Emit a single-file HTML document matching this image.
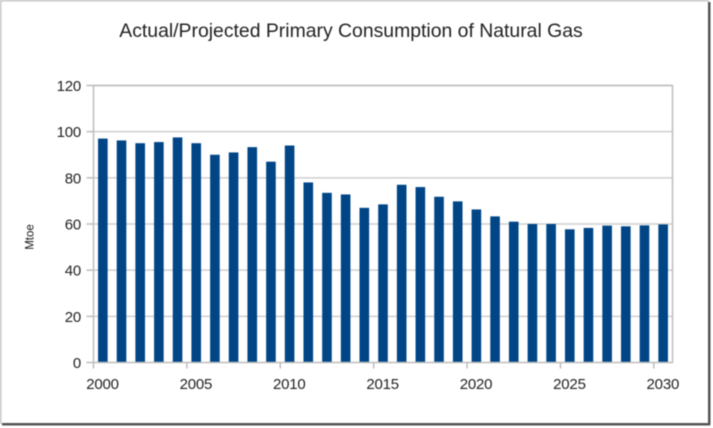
<!DOCTYPE html>
<html>
<head>
<meta charset="utf-8">
<style>
html,body{margin:0;padding:0;background:#fff;width:713px;height:428px;overflow:hidden}
svg{display:block;filter:blur(0.4px)}
text{font-family:"Liberation Sans",sans-serif;fill:#222}
</style>
</head>
<body>
<svg id="chart" width="713" height="428" viewBox="0 0 713 428" xmlns="http://www.w3.org/2000/svg">
<rect x="0" y="0" width="713" height="428" fill="#fff"/>
<rect x="2" y="423" width="708" height="2.5" fill="#555"/>
<rect x="708" y="2" width="2.5" height="423" fill="#555"/>
<rect x="0" y="0" width="709" height="1.5" fill="#c4c4c4"/>
<rect x="0" y="0" width="1.5" height="424" fill="#c4c4c4"/>
<text x="351" y="37" font-size="19.4" text-anchor="middle">Actual/Projected Primary Consumption of Natural Gas</text>
<text transform="translate(33.5 237) rotate(-90)" font-size="11.5" text-anchor="middle" style="fill:#111">Mtoe</text>
<g id="grid"></g>
<g id="bars"></g>
<g id="axes"></g>
</svg>
<script>
const categories = [2000,2001,2002,2003,2004,2005,2006,2007,2008,2009,2010,2011,2012,2013,2014,2015,2016,2017,2018,2019,2020,2021,2022,2023,2024,2025,2026,2027,2028,2029,2030];
const seriesValues = [97,96.2,95,95.5,97.5,95,90,91,93.3,87,94,78,73.5,72.8,67,68.5,77,76,71.8,69.8,66.3,63.3,61,60,60,57.7,58.3,59.3,59,59.4,59.8];
const yTicks = [0,20,40,60,80,100,120];
const xTickLabels = [2000,2005,2010,2015,2020,2025,2030];

const NS = 'http://www.w3.org/2000/svg';
const left = 93.5, right = 672.5, top_ = 85.5, bottom = 362.5;
const yMax = 120;
const step = (right - left) / categories.length;
const barW = 9.6;
const xBand = i => left + step * i;
const xOf = c => xBand(categories.indexOf(c));
const yOf = v => bottom - (v / yMax) * (bottom - top_);
function mk(tag, parent, attrs){
  const el = document.createElementNS(NS, tag);
  for (const k in attrs) el.setAttribute(k, attrs[k]);
  parent.appendChild(el);
  return el;
}
const gGrid = document.getElementById('grid');
const gBars = document.getElementById('bars');
const gAxes = document.getElementById('axes');

yTicks.forEach(function(t){
  if (t !== 0) {
    const line = mk('line', gGrid, {x1:left, x2:right, y1:yOf(t), y2:yOf(t), stroke:'#cfcfcf', 'stroke-width':1.5});
    
    
  }
  const tick = mk('line', gAxes, {x1:left-7, x2:left, y1:yOf(t), y2:yOf(t), stroke:'#bdbdbd', 'stroke-width':1.5});
  
  
  const label = mk('text', gAxes, {x:81, y:yOf(t)+5.5, 'font-size':15, 'letter-spacing':-0.2, 'text-anchor':'end'});
  
  
  label.textContent = t;
});

categories.forEach(function(c, i){
  const v = seriesValues[i];
  const bar = mk('rect', gBars, {x:xBand(i)+(step-barW)/2, y:yOf(v), width:barW, height:bottom-yOf(v), fill:'#004586'});
  
  
});

const frame = mk('rect', gAxes, {x:left, y:top_, width:right-left, height:bottom-top_, fill:'none', stroke:'#bdbdbd', 'stroke-width':1.5});



xTickLabels.forEach(function(c){
  const x = xOf(c);
  const tick = mk('line', gAxes, {x1:x, x2:x, y1:bottom, y2:bottom+6, stroke:'#bdbdbd', 'stroke-width':1.5});
  
  
  const label = mk('text', gAxes, {x:x+9, y:389, 'font-size':15, 'letter-spacing':-0.2, 'text-anchor':'middle'});
  
  
  label.textContent = c;
});
</script>
</body>
</html>
